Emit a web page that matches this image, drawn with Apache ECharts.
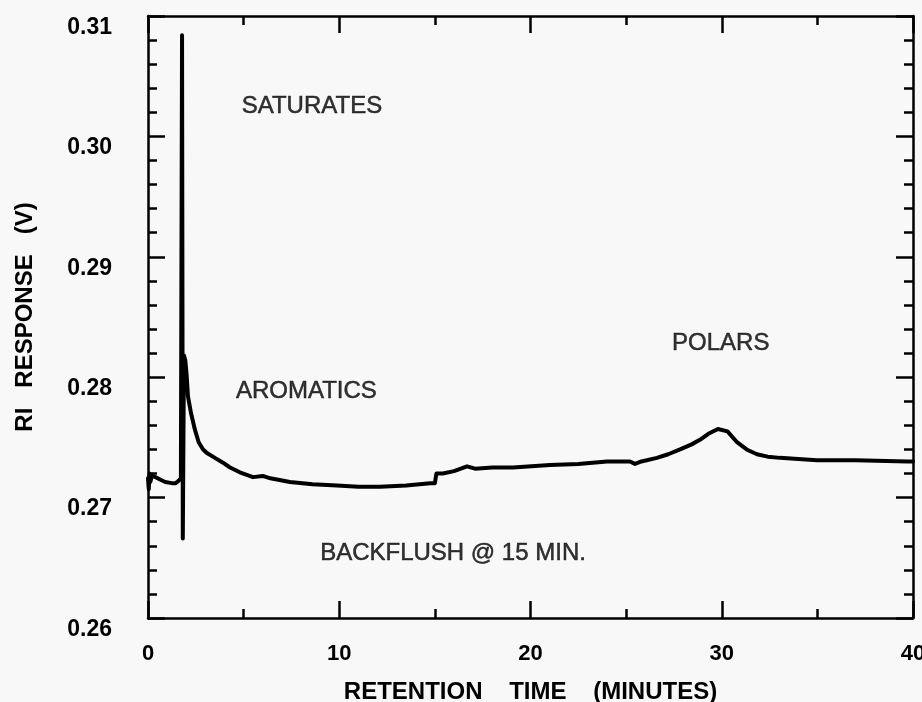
<!DOCTYPE html>
<html>
<head>
<meta charset="utf-8">
<script src="https://cdn.jsdelivr.net/npm/echarts@6/dist/echarts.min.js"></script>
<style>
  html, body { margin: 0; padding: 0; background: #f8f8f8; }
  #chart { width: 922px; height: 702px; }
</style>
</head>
<body>
<div id="chart"></div>
<script>
// Retention time (minutes) and refractive-index detector response (V)
const retentionTime = [0, 0.04, 0.08, 0.12, 0.2, 0.4, 0.63, 0.9, 1.25, 1.45,
  1.6, 1.72, 1.78, 1.82, 1.88, 1.95, 2.02, 2.09, 2.25, 2.46,
  2.65, 2.88, 3.08, 3.5, 3.92, 4.29, 4.8, 5.49, 6.0, 6.1,
  6.4, 7.42, 8.6, 9.88, 11.0, 12.13, 13.5, 14.75, 15.0, 15.08,
  15.42, 16.0, 16.68, 17.1, 18.0, 19.08, 21.02, 22.5, 24.0, 25.2,
  25.46, 25.8, 26.61, 27.2, 27.82, 28.4, 28.86, 29.3, 29.8, 30.3,
  30.8, 31.3, 31.84, 32.4, 33.05, 34.0, 34.98, 37.0, 39.69, 40];
const riResponse = [0.2716, 0.2707, 0.2720, 0.2713, 0.2718, 0.2717, 0.2715, 0.2713, 0.2712, 0.2712,
  0.2714, 0.2716, 0.3084, 0.2666, 0.2818, 0.2814, 0.2802, 0.2784, 0.2770, 0.2756,
  0.2746, 0.2740, 0.2737, 0.2733, 0.2729, 0.2725, 0.2721, 0.2717, 0.2718, 0.2719,
  0.2716, 0.2713, 0.2711, 0.2710, 0.2709, 0.2709, 0.2710, 0.2712, 0.2712, 0.2720,
  0.2720, 0.2722, 0.2726, 0.2724, 0.2725, 0.2725, 0.2727, 0.2728, 0.2730, 0.2730,
  0.2728, 0.2730, 0.2733, 0.2736, 0.2740, 0.2744, 0.2748, 0.2753, 0.2757, 0.2755,
  0.2746, 0.2740, 0.2736, 0.2734, 0.2733, 0.2732, 0.2731, 0.2731, 0.2730, 0.2730];

// Axis ranges and tick labels
const xTicks = [0, 10, 20, 30, 40];
const yTicks = [0.26, 0.27, 0.28, 0.29, 0.30, 0.31];

// Fraction names placed in the plot (data coordinates)
const noteText = ['SATURATES', 'AROMATICS', 'BACKFLUSH @ 15 MIN.', 'POLARS'];
const noteTime = [4.9, 4.6, 9.0, 27.4];
const noteResp = [0.3025, 0.2788, 0.2654, 0.2828];

const INK = '#000';
const FONT = '"Liberation Sans", Arial, sans-serif';

const curve = retentionTime.map((t, i) => [t, riResponse[i]]);
const notes = noteText.map((s, i) => ({ value: [noteTime[i], noteResp[i]], name: s }));

function xAxisDef(pos, showLabels) {
  return {
    type: 'value', position: pos,
    min: xTicks[0], max: xTicks[xTicks.length - 1], interval: 10,
    axisLine: { show: true, onZero: false, lineStyle: { color: INK, width: 2.5 } },
    axisTick: { show: true, inside: true, length: 17, lineStyle: { color: INK, width: 2.5 } },
    minorTick: { show: true, splitNumber: 2, length: 9, lineStyle: { color: INK, width: 2.5 } },
    splitLine: { show: false },
    axisLabel: {
      show: showLabels, color: INK, fontFamily: FONT, fontWeight: 'bold', fontSize: 22, margin: 25,
      formatter: v => String(v)
    },
    name: showLabels ? 'RETENTION    TIME    (MINUTES)' : '',
    nameLocation: 'middle', nameGap: 62,
    nameTextStyle: { color: INK, fontFamily: FONT, fontWeight: 'bold', fontSize: 24 }
  };
}

function yAxisDef(pos, showLabels) {
  return {
    type: 'value', position: pos,
    min: yTicks[0], max: yTicks[yTicks.length - 1], interval: 0.01,
    axisLine: { show: true, onZero: false, lineStyle: { color: INK, width: 2.5 } },
    axisTick: { show: true, inside: true, length: 17, lineStyle: { color: INK, width: 2.5 } },
    minorTick: { show: true, splitNumber: 5, length: 9, lineStyle: { color: INK, width: 2.5 } },
    splitLine: { show: false },
    axisLabel: {
      show: showLabels, color: INK, fontFamily: FONT, fontWeight: 'bold', fontSize: 23, margin: 36,
      verticalAlign: 'top',
      formatter: v => v.toFixed(2)
    },
    name: showLabels ? 'RI   RESPONSE   (V)' : '',
    nameLocation: 'middle', nameGap: 111,
    nameTextStyle: { color: INK, fontFamily: FONT, fontWeight: 'bold', fontSize: 24 }
  };
}

const chart = echarts.init(document.getElementById('chart'), null, { renderer: 'canvas' });
chart.setOption({
  backgroundColor: '#f8f8f8',
  animation: false,
  grid: { left: 148, top: 16, right: 9, bottom: 84, containLabel: false, outerBoundsMode: 'none' },
  xAxis: [xAxisDef('bottom', true), xAxisDef('top', false)],
  yAxis: [yAxisDef('left', true), yAxisDef('right', false)],
  series: [
    {
      type: 'line', xAxisIndex: 0, yAxisIndex: 0,
      data: curve, showSymbol: false, smooth: false,
      lineStyle: { color: INK, width: 4, join: 'round', cap: 'round' }
    },
    {
      type: 'scatter', xAxisIndex: 0, yAxisIndex: 0,
      data: notes, symbolSize: 0,
      label: {
        show: true, position: 'right', distance: 0,
        formatter: p => p.name,
        color: INK, fontFamily: FONT, fontSize: 24,
        textBorderColor: INK, textBorderWidth: 0.5
      }
    }
  ]
});
</script>
</body>
</html>
